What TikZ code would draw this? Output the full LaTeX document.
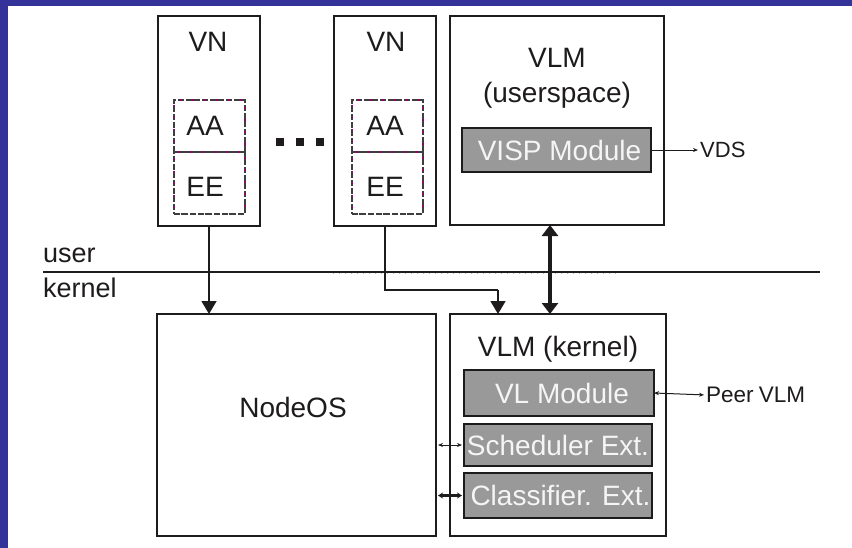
\documentclass[tikz,border=0pt]{standalone}
\usepackage{fontspec}
\setmainfont{Liberation Sans}
\usetikzlibrary{arrows.meta}
\definecolor{frameblue}{RGB}{51,51,153}
\definecolor{ink}{RGB}{30,27,28}
\definecolor{modgray}{RGB}{153,153,153}
\definecolor{modtext}{RGB}{245,245,245}
\definecolor{dotpurple}{RGB}{150,0,110}
\definecolor{dotyellow}{RGB}{195,195,100}
\begin{document}
\begin{tikzpicture}[x=1pt,y=-1pt,
  box/.style={draw=ink, line width=2pt, inner sep=0pt, outer sep=0pt},
  modbox/.style={box, fill=modgray, text=modtext, font=\fontsize{28}{30}\selectfont},
  lbl/.style={text=ink, inner sep=0pt, font=\fontsize{28}{30}\selectfont},
  smalllbl/.style={text=ink, inner sep=0pt, font=\fontsize{22.5}{24}\selectfont},
  sidelbl/.style={text=ink, inner sep=0pt, font=\fontsize{27}{29}\selectfont},
  dbox/.style={draw=ink!85, line width=1.5pt, dash pattern=on 6pt off 2pt, inner sep=0pt, outer sep=0pt,
    postaction={draw=dotpurple, line width=1.5pt, dash pattern=on 1.5pt off 10.5pt, dash phase=-6.5pt}},
  dotsq/.style={fill=ink, minimum size=8pt, inner sep=0pt},
  arr/.style={draw=ink, line width=1.5pt, -{Triangle[width=15pt,length=13pt]}},
  bigarr/.style={draw=ink, line width=4.5pt, {Triangle[width=16pt,length=11pt]}-{Triangle[width=16pt,length=11pt]}},
  thinarr/.style={draw=ink, line width=1pt, -{Stealth[length=5pt,width=4pt]}},
  thinbi/.style={draw=ink, line width=1pt, {Stealth[length=5pt,width=4pt]}-{Stealth[length=5pt,width=4pt]}},
  thickbi/.style={draw=ink, line width=3pt, {Stealth[length=5pt,width=6pt]}-{Stealth[length=5pt,width=6pt]}}
]
\useasboundingbox (0,0) rectangle (852,547);
\fill[white] (-10,-10) rectangle (862,557);
\fill[frameblue] (-10,-10) rectangle (862,6);
\fill[frameblue] (-10,-10) rectangle (8,557);

% user / kernel separator
\coordinate (sepL) at (43,272);
\coordinate (sepR) at (820,272);
\draw[ink, line width=2pt] (sepL) -- (sepR);
\coordinate (yelL) at (333,273.5);
\coordinate (yelR) at (617,273.5);
\draw[dotyellow, line width=1pt, dash pattern=on 1pt off 5pt] (yelL) -- (yelR);
\node[sidelbl, anchor=west] (user) at (43,255) {user};
\node[sidelbl, anchor=west] (kernel) at (43,288) {kernel};

% VN boxes
\node[box, minimum width=102pt, minimum height=210pt] (vn1) at (209,121) {};
\node[lbl] (vn1t) at (208,42) {VN};
\node[dbox, minimum width=71pt, minimum height=52pt] (aa1) at (209.5,126) {};
\node[dbox, minimum width=71pt, minimum height=62pt] (ee1) at (209.5,183) {};
\node[lbl] (aa1t) at (205,126) {AA};
\node[lbl] (ee1t) at (205,187) {EE};

\node[box, minimum width=102pt, minimum height=210pt] (vn2) at (385,121) {};
\node[lbl] (vn2t) at (386,42) {VN};
\node[dbox, minimum width=71pt, minimum height=52pt] (aa2) at (387.5,126) {};
\node[dbox, minimum width=71pt, minimum height=62pt] (ee2) at (387.5,183) {};
\node[lbl] (aa2t) at (385,126) {AA};
\node[lbl] (ee2t) at (385,187) {EE};

% ellipsis squares
\node[dotsq] (d1) at (280,142) {};
\node[dotsq] (d2) at (300,142) {};
\node[dotsq] (d3) at (320,142) {};

% VLM userspace
\node[box, minimum width=214pt, minimum height=209pt] (vlmu) at (557,120.5) {};
\node[lbl] (vlmut1) at (557,58) {VLM};
\node[lbl] (vlmut2) at (557,95) {(userspace)};
\node[modbox, minimum width=189pt, minimum height=44pt] (visp) at (556.5,150) {\hspace*{6pt}VISP Module};
\node[smalllbl, anchor=west, font=\fontsize{22}{24}\selectfont] (vds) at (700,150) {VDS};
\draw[thinarr, shorten >=2pt] (visp.east) -- (vds.west);

% NodeOS
\node[box, minimum width=279pt, minimum height=222pt] (nodeos) at (296.5,425) {};
\node[lbl] (nodeost) at (293,407) {NodeOS};

% VLM kernel
\node[box, minimum width=216pt, minimum height=222pt] (vlmk) at (558,425) {};
\node[lbl] (vlmkt) at (558,349) {VLM (kernel)};
\node[modbox, minimum width=190pt, minimum height=46pt] (vl) at (559,393) {\hspace*{6pt}VL Module};
\node[modbox, minimum width=188pt, minimum height=42pt] (sched) at (558,445) {Scheduler Ext.};
\node[modbox, minimum width=188pt, minimum height=45pt] (class) at (558,495.5) {\hspace*{5pt}Classifier. Ext.};
\node[smalllbl, anchor=west] (peer) at (706,395) {Peer\hspace{-1pt} VLM};
\draw[thinbi, shorten >=2pt] (vl.east) -- (peer.west);

% connectors
\draw[arr] (vn1.south) -- (vn1.south |- nodeos.north);
\coordinate (bend) at (498,290);
\draw[ink, line width=1.5pt] (vn2.south) |- (bend);
\draw[arr] (bend) -- (bend |- vlmk.north);
\path ([xshift=-7pt]vlmu.south) coordinate (dtop);
\draw[bigarr] (dtop) -- (dtop |- vlmk.north);
\draw[thinbi, shorten <=2pt, shorten >=2pt] (nodeos.east |- sched.west) -- (sched.west);
\draw[thickbi, shorten <=2pt, shorten >=2pt] (nodeos.east |- class.west) -- (class.west);
\end{tikzpicture}
\end{document}
